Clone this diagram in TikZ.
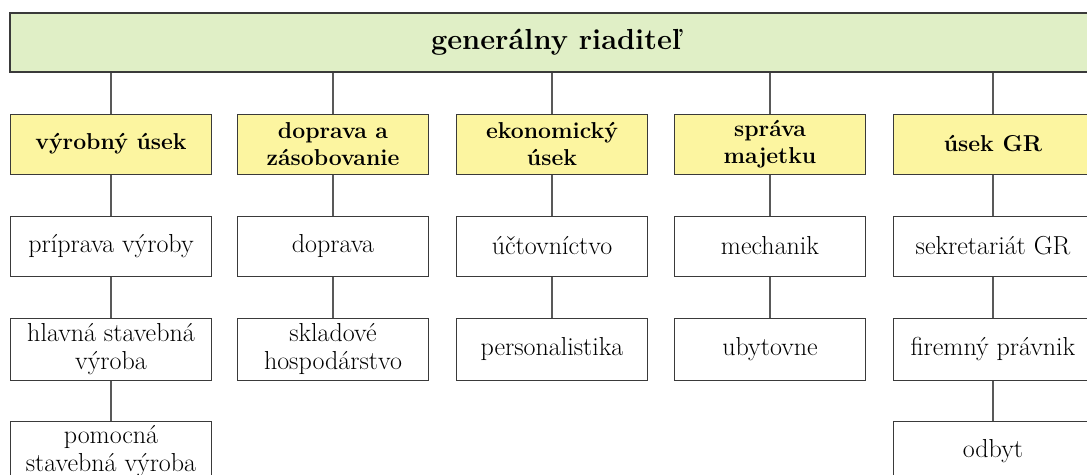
\documentclass[tikz,border=0pt]{standalone}
\usetikzlibrary{positioning}
\definecolor{bannergreen}{HTML}{E0EFC6}
\definecolor{headyellow}{HTML}{FCF5A0}
\definecolor{boxline}{HTML}{3A3A3A}
\tikzset{
	block/.style={
		rectangle,
		draw=boxline,
		fill=white,
		line width=1pt,
		align=center,
		minimum height=60pt,
		minimum width=191pt,
		inner sep=0pt,
		font=\fontsize{26}{28}\selectfont
	},
	head/.style={
		block,
		fill=headyellow,
		font=\fontsize{23}{27}\selectfont\bfseries
	},
	banner/.style={
		block,
		fill=bannergreen,
		line width=1.5pt,
		minimum width=1092pt,
		minimum height=59pt,
		font=\fontsize{29}{32}\selectfont\bfseries
	},
	link/.style={
		draw=black!65,
		line width=1.2pt
	}
}

\begin{document}
\begin{tikzpicture}[x=1pt,y=-1pt,node distance=41pt]
	\useasboundingbox (0,0) rectangle (1087,474);
	\clip (0,0) rectangle (1087,474);
	\draw node[banner](Riaditel) at (556,42.5){generálny riaditeľ};
	
	\draw node[head, minimum width=201pt](Vyroba) at (111,144){výrobný úsek};
	\draw node[head](Zasob) at (333,144){doprava a\\ zásobovanie};
	\draw node[head](Ekonom) at (552,144){ekonomický\\ úsek};
	\draw node[head](Majetok) at (770,144){správa\\ majetku};
	\draw node[head, minimum width=199pt](UsekGR) at (993,144){úsek GR};
	
	\draw node[block, minimum width=201pt, below=of Vyroba](Priprava){príprava výroby};
	\draw node[block, minimum height=62pt, minimum width=201pt, below=of Priprava](Hlavna){hlavná stavebná\\ výroba};
	\draw node[block, minimum width=201pt, below=40pt of Hlavna](Pomocna){pomocná\\ stavebná výroba};
	
	\draw node[block, below=of Zasob](Doprava){doprava};
	\draw node[block, minimum height=62pt, below=of Doprava](Sklad){skladové\\ hospodárstvo};
	
	\draw node[block, below=of Ekonom](Uctov){účtovníctvo};
	\draw node[block, minimum height=62pt, below=of Uctov](Person){personalistika};
	
	\draw node[block, below=of Majetok](Mechanik){mechanik};
	\draw node[block, minimum height=62pt, below=of Mechanik](Ubyt){ubytovne};
	
	\draw node[block, minimum width=199pt, below=of UsekGR](Sekret){sekretariát GR};
	\draw node[block, minimum height=62pt, minimum width=199pt, below=of Sekret](Pravnik){firemný právnik};
	\draw node[block, minimum width=199pt, below=40pt of Pravnik](Odbyt){odbyt};
	
	\draw [link] (Vyroba.north) -- (Vyroba.north |- Riaditel.south);
	\draw [link] (Zasob.north) -- (Zasob.north |- Riaditel.south);
	\draw [link] (Ekonom.north) -- (Ekonom.north |- Riaditel.south);
	\draw [link] (Majetok.north) -- (Majetok.north |- Riaditel.south);
	\draw [link] (UsekGR.north) -- (UsekGR.north |- Riaditel.south);
	
	\draw [link] (Vyroba) -- (Priprava);
	\draw [link] (Priprava) -- (Hlavna);
	\draw [link] (Hlavna) -- (Pomocna);
	\draw [link] (Zasob) -- (Doprava);
	\draw [link] (Doprava) -- (Sklad);
	\draw [link] (Ekonom) -- (Uctov);
	\draw [link] (Uctov) -- (Person);
	\draw [link] (Majetok) -- (Mechanik);
	\draw [link] (Mechanik) -- (Ubyt);
	\draw [link] (UsekGR) -- (Sekret);
	\draw [link] (Sekret) -- (Pravnik);
	\draw [link] (Pravnik) -- (Odbyt);
\end{tikzpicture}
\end{document}
